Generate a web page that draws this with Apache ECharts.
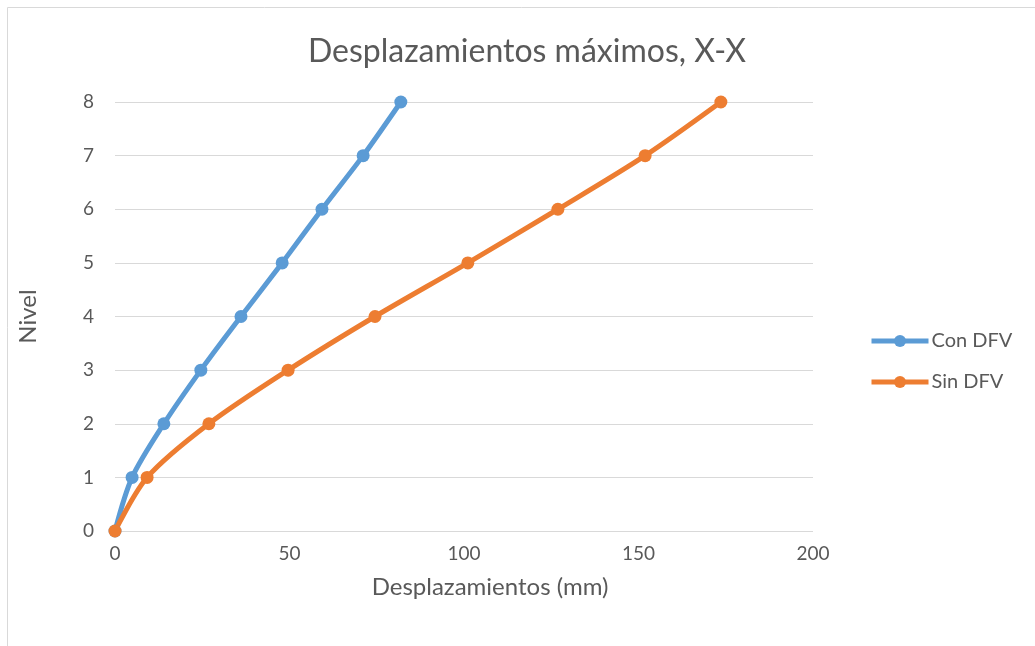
<!DOCTYPE html>
<html><head><meta charset="utf-8">
<script src="https://cdn.jsdelivr.net/npm/echarts@6/dist/echarts.min.js"></script>
<style>html,body{margin:0;padding:0;background:#fff}#c{width:1035px;height:646px}</style>
</head><body><div id="c"></div>
<script>
const levels = [0, 1, 2, 3, 4, 5, 6, 7, 8];
const conDFV = [0, 4.9, 14.0, 24.6, 36.1, 47.9, 59.3, 71.1, 81.9];
const sinDFV = [0, 9.2, 26.9, 49.6, 74.5, 101.1, 126.9, 151.9, 173.6];
const xTicks = [0, 50, 100, 150, 200];
const yTicks = [0, 1, 2, 3, 4, 5, 6, 7, 8];

const font = 'Lato, "Open Sans", sans-serif';
const chart = echarts.init(document.getElementById('c'));
chart.setOption({
  animation: false,
  title: {text: 'Desplazamientos máximos, X-X', left: 522, top: 31, textAlign: 'center',
    textStyle: {fontFamily: font, fontSize: 32, fontWeight: 'normal', color: '#595959'}},
  graphic: [{type: 'rect', shape: {x: 7.5, y: 7.5, width: 1100, height: 700},
    style: {fill: 'none', stroke: '#d9d9d9', lineWidth: 1}}],
  legend: {orient: 'vertical', left: 864, top: 326, itemGap: 21, itemWidth: 57, itemHeight: 15,
    textStyle: {fontFamily: font, fontSize: 20, color: '#595959', padding: [0, 0, 0, -2]},
    lineStyle: {width: 5}, data: ['Con DFV', 'Sin DFV']},
  grid: {left: 115, right: 222, top: 102, bottom: 115},
  xAxis: {type: 'value', min: 0, max: 200, interval: 50,
    name: 'Desplazamientos (mm)', nameLocation: 'middle', nameGap: 44,
    nameTextStyle: {fontFamily: font, fontSize: 24, color: '#595959', padding: [0, 0, 0, 52]},
    axisLine: {show: false}, axisTick: {show: false},
    axisLabel: {fontFamily: font, fontSize: 19, color: '#595959', margin: 13,
      formatter: v => xTicks.includes(v) ? String(v) : ''},
    splitLine: {show: false}},
  yAxis: {type: 'value', min: 0, max: 8, interval: 1,
    name: 'Nivel', nameLocation: 'middle', nameGap: 75,
    nameTextStyle: {fontFamily: font, fontSize: 24, color: '#595959'},
    axisLine: {show: false}, axisTick: {show: false},
    axisLabel: {fontFamily: font, fontSize: 19, color: '#595959', margin: 21,
      formatter: v => yTicks.includes(v) ? String(v) : ''},
    splitLine: {lineStyle: {color: '#d9d9d9', width: 1}}},
  series: [
    {name: 'Con DFV', type: 'line', smooth: 0.3, data: conDFV.map((x, i) => [x, levels[i]]),
      symbol: 'circle', symbolSize: 13, color: '#5b9bd5', lineStyle: {width: 5, color: '#5b9bd5'}},
    {name: 'Sin DFV', type: 'line', smooth: 0.3, data: sinDFV.map((x, i) => [x, levels[i]]),
      symbol: 'circle', symbolSize: 13, color: '#ed7d31', lineStyle: {width: 5, color: '#ed7d31'}}
  ]
});
</script></body></html>
